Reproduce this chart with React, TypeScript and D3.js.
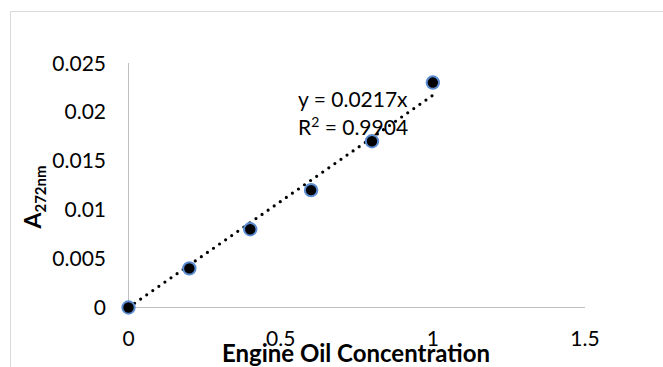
import React from "react";
import * as d3 from "d3";

const xValues = [0, 0.2, 0.4, 0.6, 0.8, 1];
const yValues = [0, 0.004, 0.008, 0.012, 0.017, 0.023];
const xTicks = [0, 0.5, 1, 1.5];
const yTicks = [0, 0.005, 0.01, 0.015, 0.02, 0.025];
const slope = 0.0217;
const eqText = "y = 0.0217x";
const r2Value = "0.9904";

const W = 663;
const H = 367;
const FONT = "Lato, 'Open Sans', sans-serif";

export default function App() {
  const x = d3.scaleLinear().domain([0, 1.5]).range([128.5, 585]);
  const y = d3.scaleLinear().domain([0, 0.025]).range([307.5, 63]);
  const xMax = d3.max(xValues) as number;
  return (
    <svg width={W} height={H} style={{ position: "absolute", left: 0, top: 0 }}>
      <rect x={0} y={0} width={W} height={H} fill="#fff" />
      <path d={`M10.5,${H} V11.5 H${W}`} fill="none" stroke="#d9d9d9" strokeWidth={1} />
      <line x1={x(0)} x2={x(0)} y1={y(0.025)} y2={y(0)} stroke="#bfbfbf" />
      <line x1={x(0)} x2={x(1.5)} y1={y(0)} y2={y(0)} stroke="#bfbfbf" />
      {yTicks.map((t) => (
        <text key={t} x={106} y={y(t) + 7.5} textAnchor="end" fontFamily={FONT} fontSize={21} fill="#000">
          {String(t)}
        </text>
      ))}
      {xTicks.map((t) => (
        <text key={t} x={x(t)} y={346} textAnchor="middle" fontFamily={FONT} fontSize={21} fill="#000">
          {String(t)}
        </text>
      ))}
      <line
        x1={x(0)}
        y1={y(0)}
        x2={x(xMax)}
        y2={y(slope * xMax)}
        stroke="#000"
        strokeWidth={3.2}
        strokeLinecap="round"
        strokeDasharray="0 7.4"
      />
      {xValues.map((v, i) => (
        <circle key={i} cx={x(v)} cy={y(yValues[i])} r={6.2} fill="#000" stroke="#5b8bd0" strokeWidth={2} />
      ))}
      <text x={298} y={107} fontFamily={FONT} fontSize={21} fill="#000">{eqText}</text>
      <text x={298} y={135} fontFamily={FONT} fontSize={21} fill="#000">
        R<tspan dy={-8} fontSize={14}>2</tspan><tspan dy={8}>{" = " + r2Value}</tspan>
      </text>
      <text x={356} y={362} textAnchor="middle" fontFamily={FONT} fontSize={24} fontWeight="bold" fill="#000">
        Engine Oil Concentration
      </text>
      <text transform={`translate(41,197) rotate(-90)`} textAnchor="middle" fontFamily={FONT} fontSize={23} fontWeight="bold" fill="#000">
        A<tspan dy={5} fontSize={15}>272nm</tspan>
      </text>
    </svg>
  );
}
